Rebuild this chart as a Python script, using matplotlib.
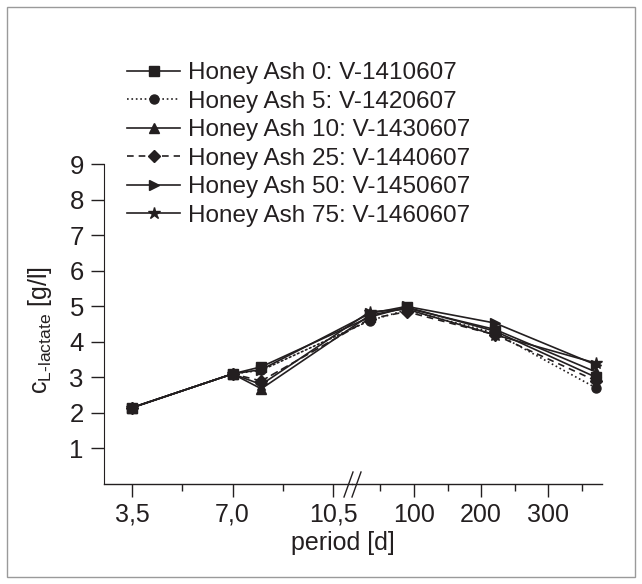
import matplotlib
matplotlib.use('Agg')
import numpy as np
import matplotlib.pyplot as plt
from matplotlib.patches import ConnectionPatch, Rectangle
from matplotlib.lines import Line2D

plt.rcParams['font.family'] = ['Liberation Sans', 'DejaVu Sans']
plt.rcParams['mathtext.fontset'] = 'custom'
plt.rcParams['mathtext.rm'] = 'Liberation Sans'
plt.rcParams['mathtext.it'] = 'Liberation Sans:italic'

INK = '#231f20'

# ------------ data ---------------
# days on the left (linear) segment and the right segment of the broken axis
days_left = [3.5, 7.0, 8.0]
days_right = [34, 89, 221, 372]

labels = ['Honey Ash 0: V-1410607', 'Honey Ash 5: V-1420607',
          'Honey Ash 10: V-1430607', 'Honey Ash 25: V-1440607',
          'Honey Ash 50: V-1450607', 'Honey Ash 75: V-1460607']

# lactate [g/l], first 3 values belong to days_left, the rest to days_right
ash0 = [2.15, 3.10, 3.30, 4.70, 4.98, 4.30, 3.00]
ash5 = [2.15, 3.10, 3.20, 4.60, 4.90, 4.25, 2.70]
ash10 = [2.15, 3.10, 2.68, 4.75, 4.95, 4.35, 3.15]
ash25 = [2.15, 3.10, 2.90, 4.65, 4.85, 4.20, 2.90]
ash50 = [2.15, 3.10, 3.22, 4.80, 5.00, 4.53, 3.35]
ash75 = [2.15, 3.10, 2.80, 4.85, 4.92, 4.20, 3.40]
series = [ash0, ash5, ash10, ash25, ash50, ash75]

markers = ['s', 'o', '^', 'D', '>', '*']
styles = ['-', ':', '-', (0, (4, 3)), '-', '-']
msizes = [6.5, 6.5, 7.5, 6, 7.5, 9]

left_ticks = [3.5, 7.0, 10.5]
left_ticklabels = ['3,5', '7,0', '10,5']
right_ticks = [100, 200, 300]
right_ticklabels = ['100', '200', '300']

FS = 18

# ------------ plot setup ---------------
fig = plt.figure(figsize=(6.42, 5.84), dpi=100)
W, H = 642, 584
bottom = 1 - 484 / H
top = 1 - 164.3 / H
brk = 352
axL = fig.add_axes([104 / W, bottom, (brk - 104) / W, top - bottom])
axR = fig.add_axes([brk / W, bottom, (602 - brk) / W, top - bottom], sharey=axL)

axL.set_xlim(2.52, 11.16)
axR.set_xlim(7.5, 380.5)
axL.set_ylim(0, 9)

for i, y in enumerate(series):
    kw = dict(color=INK, lw=1.2, ls=styles[i], marker=markers[i], ms=msizes[i],
              mfc=INK, mec=INK, clip_on=False)
    axL.plot(days_left, y[:3], label=labels[i], **kw)
    axR.plot(days_right, y[3:], **kw)
    # segment crossing the axis break
    con = ConnectionPatch(xyA=(days_left[-1], y[2]), coordsA='data', axesA=axL,
                          xyB=(days_right[0], y[3]), coordsB='data', axesB=axR,
                          color=INK, lw=1.2, ls=styles[i])
    fig.add_artist(con)

# format axes
for ax in (axL, axR):
    ax.spines['top'].set_visible(False)
    ax.spines['right'].set_visible(False)
    ax.spines['bottom'].set_color(INK)
    ax.spines['bottom'].set_linewidth(1.0)
    ax.tick_params(axis='x', which='major', direction='out', length=9.5,
                   width=1.0, colors=INK, labelsize=FS, pad=4)
    ax.tick_params(axis='x', which='minor', direction='out', length=5,
                   width=1.0, colors=INK)
    ax.set_facecolor('none')

axR.spines['left'].set_visible(False)
axR.tick_params(axis='y', left=False, labelleft=False)
axL.spines['left'].set_color(INK)
axL.tick_params(axis='y', direction='out', length=9.5, width=1.0, colors=INK,
                labelsize=FS + 0.5, pad=5)
axL.set_yticks(range(1, 10))

axL.set_xticks(left_ticks)
axL.set_xticklabels(left_ticklabels)
axL.set_xticks([5.25, 8.75], minor=True)
axR.set_xticks(right_ticks)
axR.set_xticklabels(right_ticklabels)
axR.set_xticks([50, 150, 250, 350], minor=True)

# break marks //
for x0 in (344, 352):
    fig.add_artist(Line2D([x0 / W, (x0 + 9) / W], [1 - 497 / H, 1 - 472 / H],
                          color=INK, lw=1.0))

fig.text(40 / W, 1 - 330 / H, r'c$_{\mathrm{L\text{-}lactate}}$ [g/l]',
         rotation=90, ha='center', va='center', fontsize=FS, color=INK)
fig.text(343 / W, 1 - 543 / H, 'period [d]', ha='center', va='center',
         fontsize=FS, color=INK)

leg = axL.legend(loc='upper left', bbox_to_anchor=(127 / W, 1 - 62 / H),
                 bbox_transform=fig.transFigure, frameon=False, fontsize=17.5,
                 handlelength=2.2, handletextpad=0.33, labelspacing=0.27,
                 borderpad=0, borderaxespad=0)
for t in leg.get_texts():
    t.set_color(INK)

# light frame round the whole figure
fig.add_artist(Rectangle((7 / W, 7 / H), 1 - 14 / W, 1 - 14 / H,
                         transform=fig.transFigure, fill=False,
                         edgecolor='#9a9a9a', lw=1.0))

fig.savefig('out.png', dpi=100)
